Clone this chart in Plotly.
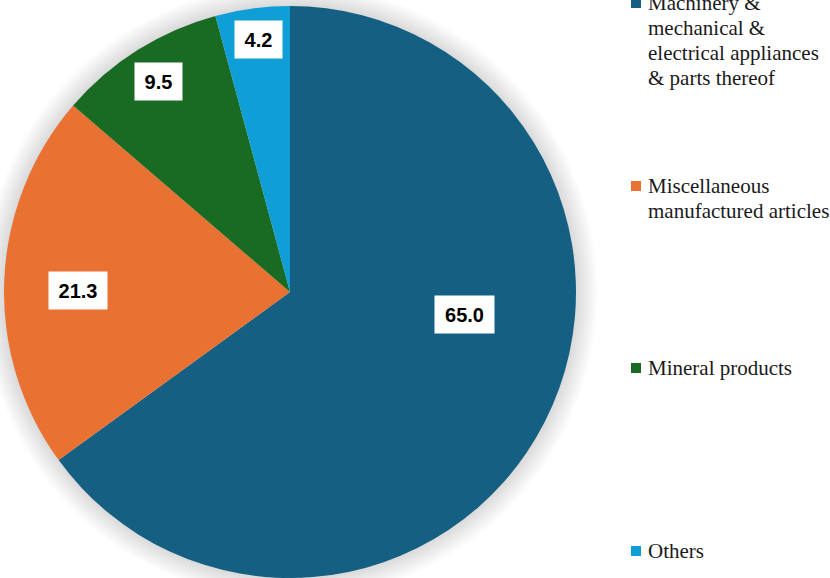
import plotly.graph_objects as go

# ---- data ----
categories = [
    "Machinery & mechanical & electrical appliances & parts thereof",
    "Miscellaneous manufactured articles",
    "Mineral products",
    "Others",
]
values = [65.0, 21.3, 9.5, 4.2]
value_labels = ["65.0", "21.3", "9.5", "4.2"]
legend_lines = [
    ["Machinery &", "mechanical &", "electrical appliances", "& parts thereof"],
    ["Miscellaneous", "manufactured articles"],
    ["Mineral products"],
    ["Others"],
]

# ---- style ----
colors = ["#156082", "#E97132", "#196B24", "#0F9ED5"]
W, H = 830, 578
CX, CY, R = 290, 292, 286          # pie centre / radius in pixels
label_pos = [(464.5, 314.5), (77.5, 290.5), (158, 82), (258.5, 39.5)]
label_w = [59, 58, 47, 47]
legend_y0 = [3, 186, 368, 551]      # first-line centre of each legend item
legend_line_h = 25
sq_x0, sq_size, text_x = 631, 10, 646
SERIF = "Liberation Serif"


def px(x):
    return x / W


def py(y):
    return 1 - y / H


def clamp(v):
    return min(1.0, max(0.0, v))


fig = go.Figure()
fig.add_trace(go.Pie(
    labels=categories,
    values=values,
    marker=dict(colors=colors, line=dict(width=0)),
    sort=False,
    direction="clockwise",
    rotation=0,
    textinfo="none",
    showlegend=False,
    domain=dict(x=[clamp(px(CX - R)), clamp(px(CX + R))],
                y=[clamp(py(CY + R)), clamp(py(CY - R))]),
))

shapes = []
# soft glow / shadow around the pie
n = 12
for i in range(n, 0, -1):
    rr = R + i * 1.8
    shapes.append(dict(
        type="circle", xref="paper", yref="paper", layer="below",
        x0=px(CX - rr), x1=px(CX + rr), y0=py(CY + rr), y1=py(CY - rr),
        fillcolor="rgba(0,0,0,0.013)", line=dict(width=0),
    ))

annotations = []
for txt, (lx, ly), w in zip(value_labels, label_pos, label_w):
    annotations.append(dict(
        text=f"<b>{txt}</b>", x=px(lx), y=py(ly), xref="paper", yref="paper",
        xanchor="center", yanchor="middle", showarrow=False,
        bgcolor="white", width=w, height=37, borderpad=0,
        font=dict(family="Liberation Sans, Arial", size=20, color="black"),
    ))

# manual legend
for lines, y0, c in zip(legend_lines, legend_y0, colors):
    shapes.append(dict(
        type="rect", xref="paper", yref="paper",
        x0=px(sq_x0), x1=px(sq_x0 + sq_size),
        y0=py(y0 + sq_size / 2), y1=py(y0 - sq_size / 2),
        fillcolor=c, line=dict(width=0),
    ))
    for k, line in enumerate(lines):
        annotations.append(dict(
            text=line, x=px(text_x), y=py(y0 + k * legend_line_h),
            xref="paper", yref="paper", xanchor="left", yanchor="middle",
            showarrow=False,
            font=dict(family=SERIF, size=21, color="#1a1a1a"),
        ))

fig.update_layout(
    width=W, height=H,
    margin=dict(l=0, r=0, t=0, b=0),
    paper_bgcolor="white", plot_bgcolor="white",
    shapes=shapes, annotations=annotations,
)
fig.write_html("out.html", config={"displayModeBar": False})

# remove the default page margin so the figure fills the window exactly
with open("out.html", encoding="utf-8") as f:
    html = f.read()
html = html.replace(
    "<head>",
    "<head><style>html,body{margin:0;padding:0;overflow:hidden;}</style>", 1)
with open("out.html", "w", encoding="utf-8") as f:
    f.write(html)
